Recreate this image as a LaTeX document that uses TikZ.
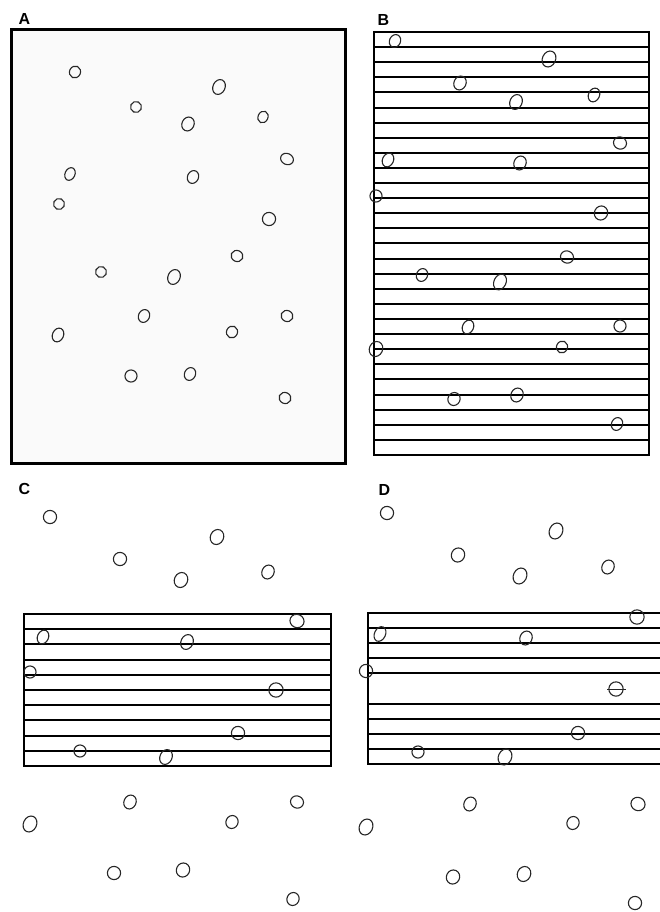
\documentclass[tikz,border=0pt]{standalone}
\usepackage{fontspec}
\newfontfamily\panelfont{Liberation Sans}
\usetikzlibrary{positioning}

\begin{document}
\begin{tikzpicture}[
  x=1pt, y=-1pt,
  lbl/.style={font={\panelfont\bfseries\fontsize{16}{16}\selectfont}, inner sep=0pt},
  frame/.style={draw=black, line width=3pt, fill=black!2},
  rule/.style={draw=black, line width=1.8pt},
  spot/.style={draw=black!85, line width=1.1pt},
]
  \useasboundingbox (0,0) rectangle (660,912);

  % panel labels
  \node[lbl] (labA) at (24.5,19) {A};
  \node[lbl] (labB) at (383.5,19.5) {B};
  \node[lbl] (labC) at (24.5,489) {C};
  \node[lbl] (labD) at (384.5,489.5) {D};

  % A: plain field
  \draw[frame] (11,30) rectangle (345,463);
  \foreach \x/\y/\a/\b in {75/72/5/5.5, 219/87/5.5/7, 136/107/5/5, 188/124/5.5/6.5,
      263/117/4.5/5.5, 287/159/6/5, 70/174/4.5/6, 193/177/5/6, 59/204/5/5,
      269/219/6/6, 237/256/5.5/5, 101/272/5/5, 174/277/5.5/7, 144/316/5/6,
      287/316/5.5/5, 58/335/5/6.5, 232/332/5/5.5, 131/376/5.5/5.5, 190/374/5/6,
      285/398/5.5/5}
    \draw[spot, rotate around={-25:(\x,\y)}] (\x,\y) ellipse (1.1*\a pt and 1.1*\b pt);

  % B: full grating
  \draw[rule] (374,32) rectangle (649,455);
  \foreach \i [evaluate=\i as \yy using {round(32+\i*15.107)}] in {1,...,27}
    \draw[rule] (374,\yy) -- (649,\yy);
  \foreach \x/\y/\a/\b in {395/41/5/6, 549/59/6/7.5, 460/83/5.5/6.5, 516/102/5.5/7,
      594/95/5/6.5, 620/143/6/5.5, 388/160/5/6.5, 520/163/5.5/6.5, 376/196/5.5/5.5,
      601/213/6/6.5, 567/257/6/5.5, 422/275/5/6, 500/282/5.5/7.5, 468/327/5/6.5,
      620/326/5.5/5.5, 376/349/6/7, 562/347/5/5.5, 454/399/5.5/6, 517/395/5.5/6.5,
      617/424/5/6}
    \draw[spot, rotate around={-25:(\x,\y)}] (\x,\y) ellipse (1.1*\a pt and 1.1*\b pt);

  % C: band of lines
  \draw[rule] (24,614) rectangle (331,766);
  \foreach \i [evaluate=\i as \yy using {round(614+\i*15.2)}] in {1,...,9}
    \draw[rule] (24,\yy) -- (331,\yy);
  \foreach \x/\y/\a/\b in {50/517/6/6, 217/537/6/7, 120/559/6/6, 181/580/6/7,
      268/572/5.5/6.5, 297/621/6.5/6, 43/637/5/6.5, 187/642/5.5/7, 30/672/5.5/5.5,
      276/690/6.5/6.5, 238/733/6/6, 80/751/5.5/5.5, 166/757/5.5/7, 130/802/5.5/6.5,
      297/802/6/5.5, 30/824/6/7.5, 232/822/5.5/6, 114/873/6/6, 183/870/6/6.5,
      293/899/5.5/6}
    \draw[spot, rotate around={-25:(\x,\y)}] (\x,\y) ellipse (1.1*\a pt and 1.1*\b pt);

  % D: band with one line missing
  \draw[rule] (660,613) -- (368,613) -- (368,764) -- (660,764);
  \foreach \i [evaluate=\i as \yy using {round(613+\i*15.1)}] in {1,2,3,4,6,7,8,9}
    \draw[rule] (368,\yy) -- (660,\yy);
  \draw[spot] (607,689.5) -- (626,689.5);
  \foreach \x/\y/\a/\b in {387/513/6/6, 556/531/6/7.5, 458/555/6/6.5, 520/576/6/7.5,
      608/567/5.5/6.5, 637/617/6.5/6.5, 380/634/5/7, 526/638/5.5/6.5, 366/671/6/6,
      616/689/6.5/6.5, 578/733/6/6, 418/752/5.5/5.5, 505/757/6/7.5, 470/804/5.5/6.5,
      638/804/6.5/6, 366/827/6/7.5, 573/823/5.5/6, 453/877/6/6.5, 524/874/6/7,
      635/903/6/6}
    \draw[spot, rotate around={-25:(\x,\y)}] (\x,\y) ellipse (1.1*\a pt and 1.1*\b pt);
\end{tikzpicture}
\end{document}
